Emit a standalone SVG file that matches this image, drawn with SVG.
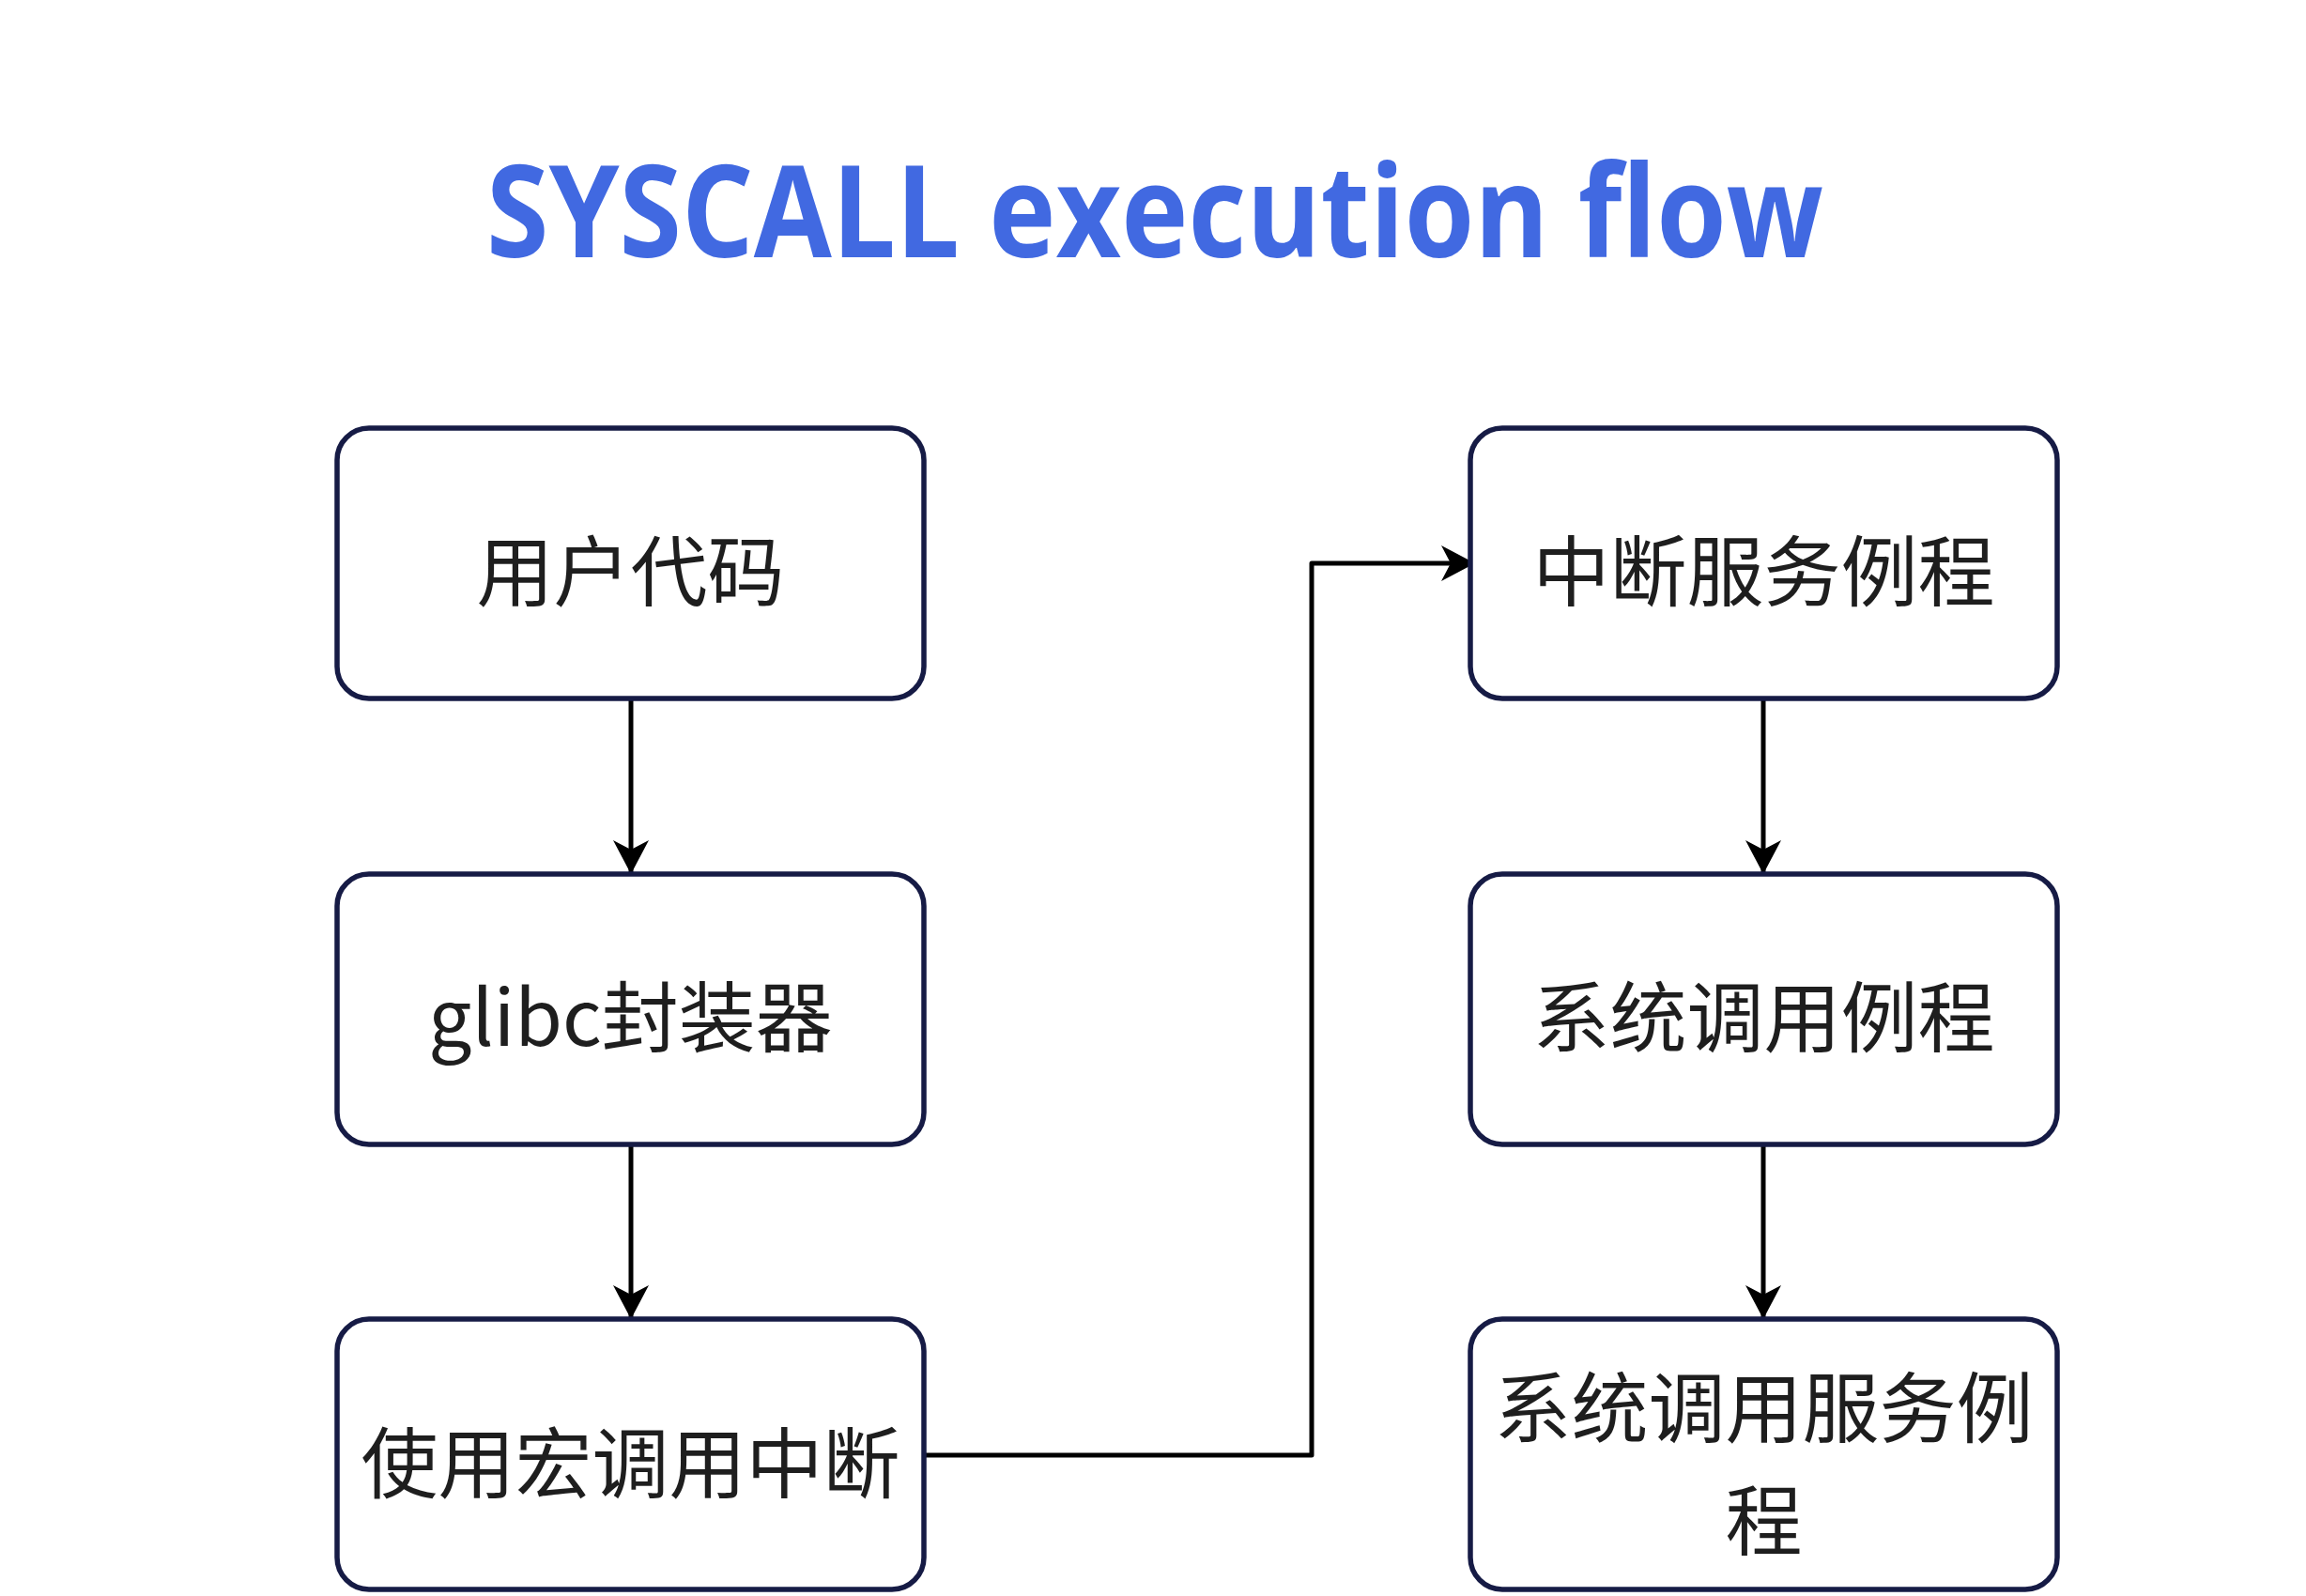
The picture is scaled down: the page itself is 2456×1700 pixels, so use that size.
<svg xmlns="http://www.w3.org/2000/svg" width="2456" height="1700" viewBox="0 0 2456 1700">
  <defs>
    <style>
      .node rect { fill: #ffffff; stroke: #161b45; stroke-width: 5.5; }
      .node text { font-family: "Noto Sans CJK SC", "Noto Sans", sans-serif; font-size: 82px; fill: #1e1e1e; text-anchor: middle; }
      .edge { fill: none; stroke: #000000; stroke-width: 5; stroke-linejoin: round; }
      .title { font-family: "Open Sans", "Noto Sans", sans-serif; font-weight: bold; font-size: 136px; fill: #4169e1; text-anchor: middle; }
    </style>
    <marker id="arrow" markerUnits="userSpaceOnUse" markerWidth="38" markerHeight="40" refX="36" refY="20" orient="auto" viewBox="0 0 38 40">
      <path d="M0,1 L36,20 L0,39 L10,20 Z" fill="#000000"/>
    </marker>
  </defs>
  <rect width="2456" height="1700" fill="#ffffff"/>
  <text class="title" x="1230" y="274" textLength="1424" lengthAdjust="spacingAndGlyphs">SYSCALL execution flow</text>

  <g id="connectors">
    <path class="edge" d="M672,744 L672,931" marker-end="url(#arrow)"/>
    <path class="edge" d="M672,1219 L672,1405" marker-end="url(#arrow)"/>
    <path class="edge" d="M984,1550 L1397,1550 L1397,600 L1571,600" marker-end="url(#arrow)"/>
    <path class="edge" d="M1878,744 L1878,931" marker-end="url(#arrow)"/>
    <path class="edge" d="M1878,1219 L1878,1405" marker-end="url(#arrow)"/>
  </g>

  <g id="node-user-code" class="node">
    <rect x="359" y="456" width="625" height="288" rx="34" ry="34"/>
    <text x="671.5" y="639">用户代码</text>
  </g>
  <g id="node-glibc" class="node">
    <rect x="359" y="931" width="625" height="288" rx="34" ry="34"/>
    <text x="671.5" y="1114">glibc封装器</text>
  </g>
  <g id="node-macro-int" class="node">
    <rect x="359" y="1405" width="625" height="288" rx="34" ry="34"/>
    <text x="671.5" y="1589">使用宏调用中断</text>
  </g>
  <g id="node-isr" class="node">
    <rect x="1566" y="456" width="625" height="288" rx="34" ry="34"/>
    <text x="1878.5" y="639">中断服务例程</text>
  </g>
  <g id="node-syscall-routine" class="node">
    <rect x="1566" y="931" width="625" height="288" rx="34" ry="34"/>
    <text x="1878.5" y="1114">系统调用例程</text>
  </g>
  <g id="node-syscall-service" class="node">
    <rect x="1566" y="1405" width="625" height="288" rx="34" ry="34"/>
    <text x="1878.5" y="1530">系统调用服务例</text>
    <text x="1878.5" y="1650">程</text>
  </g>
</svg>
